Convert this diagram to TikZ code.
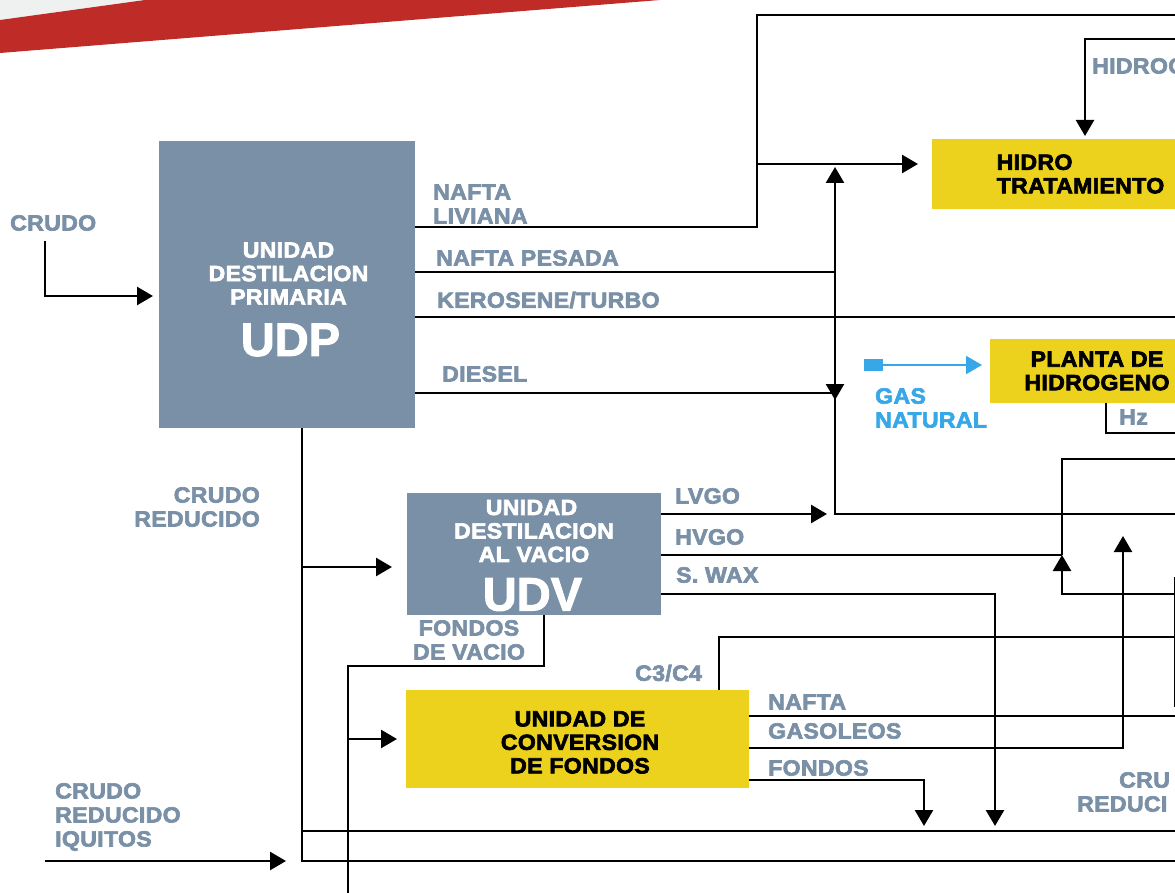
\documentclass[tikz,border=0pt]{standalone}
\usepackage{fontspec}
\setmainfont{Liberation Sans}[BoldFeatures={FakeBold=3,FakeStretch=1.05,LetterSpace=1.5}]
\newfontfamily\tagfont{Liberation Sans}[BoldFeatures={FakeBold=2}]
\usetikzlibrary{arrows.meta}
\definecolor{slate}{HTML}{7A90A6}
\definecolor{gold}{HTML}{ECD21C}
\definecolor{crimson}{HTML}{BF2B26}
\definecolor{paleg}{HTML}{EFF1F0}
\definecolor{sky}{HTML}{38A7E8}
\tikzset{
 wire/.style={draw=black,line width=2.6pt,line join=miter},
 arr/.style={wire,-{Triangle[length=16pt,width=18pt]}},
 skyarr/.style={draw=sky,line width=2.2pt,-{Triangle[length=16pt,width=18pt]}},
 lab/.style={inner sep=0pt,text=slate,font=\fontsize{22}{24}\selectfont\bfseries,anchor=west,align=left},
 bluelab/.style={lab,text=sky},
 greybox/.style={fill=slate,inner sep=0pt,text=white,align=center,font=\fontsize{22}{23.5}\selectfont\bfseries},
 goldbox/.style={fill=gold,inner sep=0pt,text=black,align=center,font=\fontsize{22}{23.5}\selectfont\bfseries},
}
\newcommand{\bigtag}[1]{{\tagfont\fontsize{47}{47}\selectfont #1}}
\begin{document}
\begin{tikzpicture}[x=1pt,y=-1pt]
\useasboundingbox (0,0) rectangle (1175,893);
\clip (0,0) rectangle (1175,893);
\fill[paleg] (0,0) -- (145,0) -- (0,20) -- cycle;
\fill[crimson] (0,20) -- (145,0) -- (660,0) -- (0,53) -- cycle;

% boxes
\node[greybox,minimum width=256pt,minimum height=287pt] (udp) at (287,284.5)
  {\rule{0pt}{45pt}\hspace*{3pt}UNIDAD\\\hspace*{3pt}DESTILACION\\\hspace*{3pt}PRIMARIA\\[18pt]\hspace*{7pt}\bigtag{UDP}};
\node[greybox,minimum width=254pt,minimum height=122pt] (udv) at (534,554)
  {\rule{0pt}{18pt}UNIDAD\hspace*{5pt}\\DESTILACION\hspace*{5pt}\\AL VACIO\hspace*{5pt}\\[15pt]\bigtag{UDV}\hspace*{3pt}};
\node[goldbox,minimum width=343pt,minimum height=98pt] (conv) at (577.5,739)
  {\rule{0pt}{22pt}\hspace*{5pt}UNIDAD DE\\\hspace*{5pt}CONVERSION\\\hspace*{5pt}DE FONDOS};
\node[goldbox,minimum width=297pt,minimum height=70pt,align=left] (hidro) at (1080.5,174)
  {HIDRO\\TRATAMIENTO};
\node[goldbox,minimum width=214pt,minimum height=64pt] (planta) at (1097,371)
  {PLANTA DE\\HIDROGENO};

% waypoints
\coordinate (crudoT) at (45,241);
\coordinate (crudoB) at (45,296);
\coordinate (crudoE) at (153,296);
\coordinate (a1) at (757,227);
\coordinate (a2) at (757,15);
\coordinate (a3) at (1175,15);
\coordinate (a4) at (757,164);
\coordinate (a5) at (918,164);
\coordinate (h1) at (1175,39);
\coordinate (h2) at (1085,39);
\coordinate (h3) at (1085,136);
\coordinate (p1) at (835,272);
\coordinate (p2) at (835,400);
\coordinate (k1) at (1175,317);
\coordinate (d1) at (835,393);
\coordinate (v1) at (835,514);
\coordinate (v2) at (835,167);
\coordinate (v3) at (1175,514);
\coordinate (gsE) at (982,365);
\coordinate (hz1) at (1106,433);
\coordinate (hz2) at (1175,433);
\coordinate (t1) at (302,567);
\coordinate (t2) at (392,567);
\coordinate (t3) at (302,831);
\coordinate (t4) at (1175,831);
\coordinate (t5) at (302,861);
\coordinate (t6) at (1175,861);
\coordinate (q1) at (45,861);
\coordinate (q2) at (286,861);
\coordinate (f1) at (544,666);
\coordinate (f2) at (348,666);
\coordinate (f3) at (348,893);
\coordinate (f4) at (348,739);
\coordinate (f5) at (397,739);
\coordinate (lv) at (827,514);
\coordinate (hv) at (1062,555);
\coordinate (r1) at (1062,459);
\coordinate (r2) at (1175,459);
\coordinate (r3) at (1175,594);
\coordinate (r4) at (1062,594);
\coordinate (s1) at (995,594);
\coordinate (s2) at (995,826);
\coordinate (g1) at (1123,748);
\coordinate (g2) at (1123,536);
\coordinate (n1) at (1175,716);
\coordinate (c1) at (719,637);
\coordinate (c2) at (1175,637);
\coordinate (o1) at (924,780);
\coordinate (o2) at (924,826);
\coordinate (e1) at (1175,577);
\coordinate (e2) at (1175,707);

% connectors
\draw[arr] (crudoT) -- (crudoB) -- (crudoE);
\draw[wire] (udp.east |- a1) -- (a1) -- (a2) -- (a3);
\draw[arr] (a4) -- (a5);
\draw[arr] (h1) -- (h2) -- (h3);
\draw[arr] (udp.east |- p1) -- (p1) -- (p2);
\draw[wire] (udp.east |- k1) -- (k1);
\draw[wire] (udp.east |- d1) -- (d1);
\draw[arr] (v3) -- (v1) -- (v2);
\draw[wire] (planta.south -| hz1) -- (hz1) -- (hz2);
\draw[wire] (udp.south -| t1) -- (t5) -- (t6);
\draw[arr] (t1) -- (t2);
\draw[wire] (t3) -- (t4);
\draw[arr] (q1) -- (q2);
\draw[wire] (udv.south -| f1) -- (f1) -- (f2) -- (f3);
\draw[arr] (f4) -- (f5);
\draw[arr] (udv.east |- lv) -- (lv);
\draw[wire] (udv.east |- hv) -- (hv);
\draw[wire] (r2) -- (r1) -- (hv);
\draw[arr] (r3) -- (r4) -- (hv);
\draw[arr] (udv.east |- s1) -- (s1) -- (s2);
\draw[arr] (conv.east |- g1) -- (g1) -- (g2);
\draw[wire] (conv.east |- n1) -- (n1);
\draw[wire] (conv.north -| c1) -- (c1) -- (c2);
\draw[arr] (conv.east |- o1) -- (o1) -- (o2);
\draw[wire] (e1) -- (e2);
\node[fill=sky,minimum width=19pt,minimum height=12pt,inner sep=0pt] (gsq) at (873.5,365) {};
\draw[skyarr] (gsq.east) -- (gsE);

% labels
\node[lab] (l1) at (10,223) {CRUDO};
\node[lab] (l2) at (433,204) {NAFTA\\LIVIANA};
\node[lab] (l3) at (436,258) {NAFTA PESADA};
\node[lab] (l4) at (437,300) {KEROSENE/TURBO};
\node[lab] (l5) at (442,374) {DIESEL};
\node[lab,anchor=east,align=right] (l6) at (260,507) {CRUDO\\REDUCIDO};
\node[lab] (l7) at (675,496) {LVGO};
\node[lab] (l8) at (675,537) {HVGO};
\node[lab] (l9) at (676,575) {S. WAX};
\node[lab,anchor=center,align=center] (l10) at (469,640) {FONDOS\\DE VACIO};
\node[lab] (l11) at (635,673) {C3/C4};
\node[lab] (l12) at (768,702) {NAFTA};
\node[lab] (l13) at (768,731) {GASOLEOS};
\node[lab] (l14) at (768,768) {FONDOS};
\node[lab] (l15) at (55,817) {CRUDO\\REDUCIDO\\IQUITOS};
\node[lab] (l16) at (1077,792) {\hspace*{42pt}CRU\\REDUCI};
\node[lab] (l17) at (1092,66) {HIDROG};
\node[lab] (l18) at (1119,417) {Hz};
\node[bluelab] (l19) at (875,408) {GAS\\NATURAL};
\end{tikzpicture}
\end{document}
